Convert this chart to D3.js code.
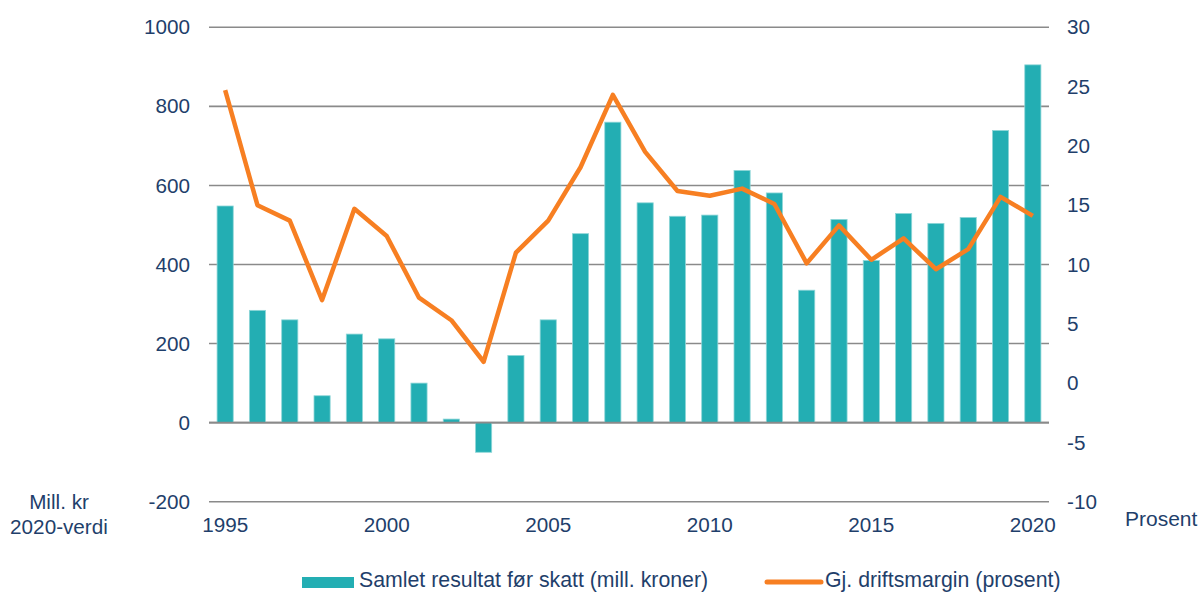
<!DOCTYPE html>
<html>
<head>
<meta charset="utf-8">
<script src="https://cdn.jsdelivr.net/npm/d3@7"></script>
<style>
  body { margin: 0; background: #fff; }
  text { font-family: "Liberation Sans", Arial, sans-serif; fill: #1f3f6b; }
</style>
</head>
<body>
<script>
// years on the x axis
let years = d3.range(1995, 2021);
// Samlet resultat før skatt (mill. kroner)
let resultat = [548, 284, 260, 68, 224, 212, 100, 9, -75, 170,
                260, 478, 760, 556, 522, 525, 638, 581, 335, 514,
                410, 529, 504, 519, 739, 905];
// Gj. driftsmargin (prosent)
let margin = [24.7, 15.0, 13.7, 7.0, 14.7, 12.4, 7.2, 5.3, 1.8, 11.0,
              13.7, 18.2, 24.3, 19.5, 16.2, 15.8, 16.4, 15.1, 10.1, 13.3,
              10.4, 12.2, 9.6, 11.3, 15.7, 14.1];
let leftTicks = [-200, 0, 200, 400, 600, 800, 1000];
let rightTicks = [-10, -5, 0, 5, 10, 15, 20, 25, 30];
let yearTicks = [1995, 2000, 2005, 2010, 2015, 2020];

let width = 1200;
let height = 592;
let fontSize = 20.7;

let svg = d3.select("body")
    .append("svg")
    .attr("width", width)
    .attr("height", height);

let x = d3.scaleBand()
    .domain(years)
    .range([209, 1049])
    .paddingInner(0.5)
    .paddingOuter(0.25);

let yLeft = d3.scaleLinear()
    .domain([-200, 1000])
    .range([501.7, 27.3]);

let yRight = d3.scaleLinear()
    .domain([-10, 30])
    .range([501.7, 27.3]);

// gridlines
svg.append("g")
    .selectAll("line")
    .data(leftTicks)
    .enter()
        .append("line")
        .attr("x1", 209)
        .attr("x2", 1049)
        .attr("y1", d => yLeft(d))
        .attr("y2", d => yLeft(d))
        .attr("stroke", "#8a8a8a")
        .attr("stroke-width", 1.6);

// bars
svg.append("g")
    .selectAll("rect")
    .data(resultat)
    .enter()
        .append("rect")
        .attr("x", (d, i) => x(years[i]))
        .attr("width", x.bandwidth())
        .attr("y", d => yLeft(Math.max(0, d)))
        .attr("height", d => Math.abs(yLeft(d) - yLeft(0)))
        .attr("fill", "#23aeb3")
        .attr("stroke", "#8fd6d8")
        .attr("stroke-width", 0.8);

// redraw zero line on top of bars
svg.append("line")
    .attr("x1", 209)
    .attr("x2", 1049)
    .attr("y1", yLeft(0))
    .attr("y2", yLeft(0))
    .attr("stroke", "#8a8a8a")
    .attr("stroke-width", 1.8);

// margin line
let line = d3.line()
    .x((d, i) => x(years[i]) + x.bandwidth() / 2)
    .y(d => yRight(d));

svg.append("path")
    .datum(margin)
    .attr("d", line)
    .attr("fill", "none")
    .attr("stroke", "#f77f22")
    .attr("stroke-width", 4.5)
    .attr("stroke-linejoin", "round");

// axes
let fmt = d => String(d);
let leftAxis = d3.axisLeft(yLeft).tickValues(leftTicks).tickFormat(fmt).tickSize(0).tickPadding(0);
let rightAxis = d3.axisRight(yRight).tickValues(rightTicks).tickFormat(fmt).tickSize(0).tickPadding(0);
let bottomAxis = d3.axisBottom(x).tickValues(yearTicks).tickFormat(fmt).tickSize(0).tickPadding(0);

let gl = svg.append("g").attr("transform", "translate(190, 0)").call(leftAxis);
let gr = svg.append("g").attr("transform", "translate(1067, 0)").call(rightAxis);
let gb = svg.append("g").attr("transform", "translate(0, 517)").call(bottomAxis);

[gl, gr, gb].forEach(g => {
    g.select(".domain").remove();
    g.selectAll("text")
        .attr("font-size", fontSize)
        .attr("font-family", "Liberation Sans, Arial, sans-serif")
        .attr("fill", "#1f3f6b");
});

// axis titles
svg.append("text")
    .attr("x", 59).attr("y", 509)
    .attr("text-anchor", "middle")
    .attr("font-size", fontSize)
    .text("Mill. kr");
svg.append("text")
    .attr("x", 59).attr("y", 534)
    .attr("text-anchor", "middle")
    .attr("font-size", fontSize)
    .text("2020-verdi");
svg.append("text")
    .attr("x", 1125).attr("y", 526)
    .attr("font-size", 21)
    .text("Prosent");

// legend
svg.append("rect")
    .attr("x", 302).attr("y", 577)
    .attr("width", 52).attr("height", 11)
    .attr("fill", "#23aeb3");
svg.append("text")
    .attr("x", 359).attr("y", 587)
    .attr("font-size", 21.3)
    .text("Samlet resultat før skatt (mill. kroner)");
svg.append("line")
    .attr("x1", 767).attr("x2", 821)
    .attr("y1", 582).attr("y2", 582)
    .attr("stroke", "#f77f22")
    .attr("stroke-width", 5)
    .attr("stroke-linecap", "round");
svg.append("text")
    .attr("x", 825).attr("y", 587)
    .attr("font-size", 21.3)
    .text("Gj. driftsmargin (prosent)");
</script>
</body>
</html>
